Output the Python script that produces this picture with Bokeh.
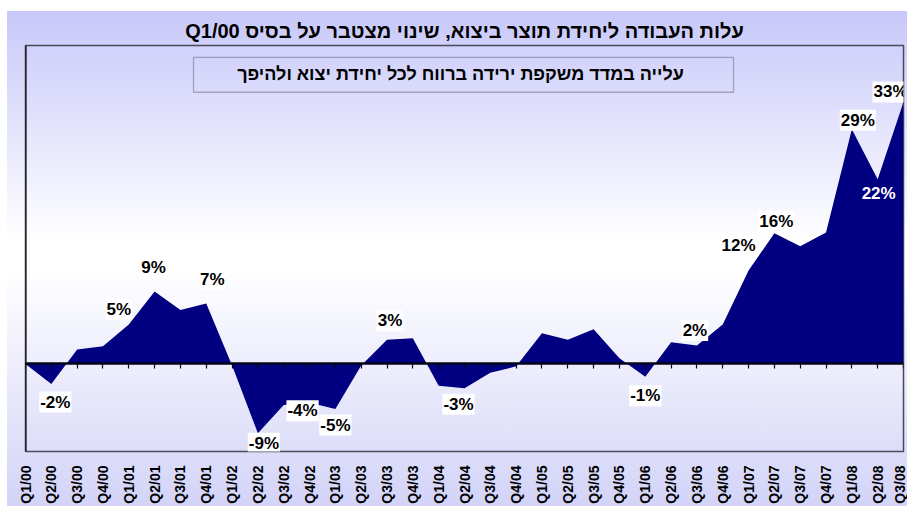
import math
from bokeh.plotting import figure
from bokeh.models import Range1d, FixedTicker, LinearAxis, Span, Label, BoxAnnotation
from bokeh.embed import file_html
from bokeh.resources import INLINE

# ---------------- data ----------------
quarters = [
    "Q1/00", "Q2/00", "Q3/00", "Q4/00",
    "Q1/01", "Q2/01", "Q3/01", "Q4/01",
    "Q1/02", "Q2/02", "Q3/02", "Q4/02",
    "Q1/03", "Q2/03", "Q3/03", "Q4/03",
    "Q1/04", "Q2/04", "Q3/04", "Q4/04",
    "Q1/05", "Q2/05", "Q3/05", "Q4/05",
    "Q1/06", "Q2/06", "Q3/06", "Q4/06",
    "Q1/07", "Q2/07", "Q3/07", "Q4/07",
    "Q1/08", "Q2/08", "Q3/08",
]
values = [
    0.0, -2.5, 1.8, 2.2,
    4.9, 9.0, 6.7, 7.5,
    -0.2, -8.6, -5.1, -4.8,
    -5.6, -0.2, 3.0, 3.2,
    -2.7, -3.0, -1.1, -0.3,
    3.8, 3.0, 4.3, 0.7,
    -1.6, 2.7, 2.3, 4.9,
    11.6, 16.2, 14.6, 16.3,
    29.1, 22.9, 32.5,
]
label_quarters = ["Q2/00", "Q1/01", "Q2/01", "Q4/01", "Q2/02", "Q4/02", "Q1/03",
                  "Q3/03", "Q2/04", "Q1/06", "Q3/06", "Q1/07", "Q2/07", "Q1/08",
                  "Q2/08", "Q3/08"]
label_texts = ["-2%", "5%", "9%", "7%", "-9%", "-4%", "-5%",
               "3%", "-3%", "-1%", "2%", "12%", "16%", "29%",
               "22%", "33%"]

title_text = "עלות העבודה ליחידת תוצר ביצוא, שינוי מצטבר על בסיס Q1/00"
note_text = "עלייה במדד משקפת ירידה ברווח לכל יחידת יצוא ולהיפך"

# ---------------- layout / style ----------------
# pixel nudges of each value label (dx right, dy down) relative to its point
label_nudge = {
    "Q2/00": (4, 18), "Q1/01": (-10, -15), "Q2/01": (-1, -24), "Q4/01": (6, -24),
    "Q2/02": (6, 10), "Q4/02": (-7, 8), "Q1/03": (0, 16), "Q3/03": (3, -19),
    "Q2/04": (-6, 16), "Q1/06": (0, 19), "Q3/06": (-2, -15), "Q1/07": (-10, -25),
    "Q2/07": (2, -12), "Q1/08": (6, -9), "Q2/08": (1, 14), "Q3/08": (-13, -10),
}
white_text_labels = {"Q2/08"}

FONT = "Liberation Sans"
NAVY = "#000080"
W, H = 907, 506
F_LEFT, F_RIGHT, F_TOP, F_BOTTOM = 25, 903, 45, 453
Y_LO, Y_HI = -10.86, 39.5
PX_Y = (F_BOTTOM - F_TOP) / (Y_HI - Y_LO)
N = len(quarters)
PX_X = (F_RIGHT - F_LEFT) / (N - 1)

idx = list(range(N))

p = figure(width=W, height=H,
           x_range=Range1d(0, N - 1),
           y_range=Range1d(Y_LO, Y_HI),
           output_backend="svg", toolbar_location=None,
           min_border_left=F_LEFT, min_border_right=W - F_RIGHT,
           min_border_top=F_TOP, min_border_bottom=H - F_BOTTOM)

p.background_fill_color = None
p.border_fill_color = None
p.styles = {"background": (
    "linear-gradient(to right, #ffffff 7px, rgba(255,255,255,0) 7px), "
    "linear-gradient(to bottom, #ffffff 11px, #c8c8fa 11px, #ffffff 48%, #ffffff 53%, #d3d3f8 100%)")}
p.outline_line_color = "#4a4a5a"
p.outline_line_width = 1.5
p.xgrid.visible = False
p.ygrid.visible = False
p.yaxis.visible = False

# title
p.title.text = "\u202b" + title_text + "\u202c"
p.title.align = "center"
p.title.text_font = FONT
p.title.text_font_style = "bold"
p.title.text_font_size = "20px"
p.title.text_color = "black"
p.title.standoff = 8

# area
p.varea(x=idx, y1=[0] * N, y2=values, fill_color=NAVY, fill_alpha=1.0)

# bottom category labels
xa = p.xaxis[0]
xa.ticker = FixedTicker(ticks=idx)
xa.major_label_overrides = {i: q for i, q in zip(idx, quarters)}
xa.major_label_orientation = math.pi / 2
xa.axis_line_color = None
xa.major_tick_line_color = None
xa.minor_tick_line_color = None
xa.major_tick_out = 0
xa.major_tick_in = 0
xa.major_label_standoff = 14
xa.major_label_text_font = FONT
xa.major_label_text_font_style = "bold"
xa.major_label_text_font_size = "14px"
xa.major_label_text_color = "black"

# zero axis with ticks
za = LinearAxis(fixed_location=0, ticker=FixedTicker(ticks=idx))
za.axis_line_color = "#05051a"
za.axis_line_width = 2.5
za.major_tick_line_color = "#05051a"
za.major_tick_line_width = 1.2
za.major_tick_in = 0
za.major_tick_out = 5
za.minor_tick_line_color = None
za.major_label_text_font_size = "0px"
za.major_label_text_color = None
p.add_layout(za, "below")

# y axis line at left
p.add_layout(Span(location=0, dimension="height", line_color="black", line_width=2))

# value labels
qpos = {q: i for i, q in enumerate(quarters)}
for q, t in zip(label_quarters, label_texts):
    i = qpos[q]
    dx, dy = label_nudge[q]
    white = q in white_text_labels
    lab = Label(x=i, y=values[i], text=t, x_offset=dx, y_offset=-dy,
                text_align="center", text_baseline="middle",
                text_font=FONT, text_font_style="bold", text_font_size="17px",
                text_color="white" if white else "black",
                background_fill_color=None if white else "white",
                padding=1)
    p.add_layout(lab)

# note box (pixel box 193..733 x 57..92)
def dx_(px):
    return (px - F_LEFT) / PX_X

def dy_(py):
    return Y_HI - (py - F_TOP) / PX_Y

p.add_layout(BoxAnnotation(left=dx_(193), right=dx_(733), top=dy_(57), bottom=dy_(92),
                           fill_color=None, line_color="#222222", line_width=1.3))
p.add_layout(Label(x=dx_(460), y=dy_(74), text="\u202b" + note_text + "\u202c",
                   text_align="center", text_baseline="middle",
                   text_font=FONT, text_font_style="bold", text_font_size="18px",
                   text_color="black"))

open("out.html", "w").write(file_html(p, INLINE))
